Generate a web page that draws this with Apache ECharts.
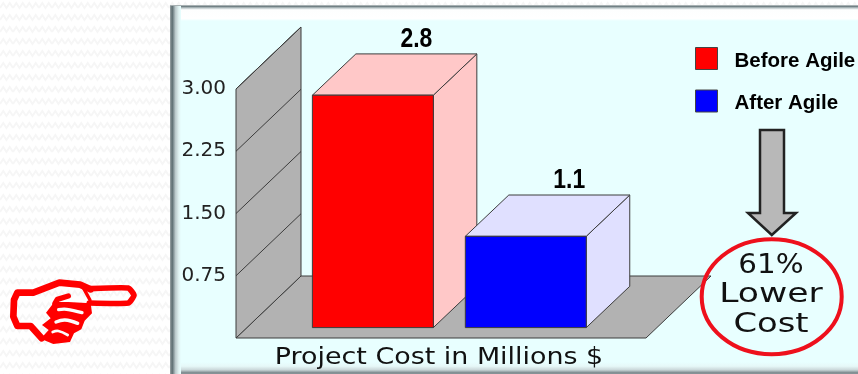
<!DOCTYPE html>
<html>
<head>
<meta charset="utf-8">
<style>
html,body{margin:0;padding:0;width:858px;height:374px;overflow:hidden;background-color:#fff;
background-image:url("data:image/svg+xml;utf8,<svg xmlns='http://www.w3.org/2000/svg' width='13' height='12'><path d='M0 8 L3.25 3 L6.5 8 L9.75 3 L13 8' fill='none' stroke='%23f6f6f6' stroke-width='2'/></svg>");}
#c{width:858px;height:374px;}
</style>
<script src="https://cdn.jsdelivr.net/npm/echarts@6/dist/echarts.min.js"></script>
</head>
<body>
<div id="c"></div>
<script>
const categories = ['Project Cost in Millions $'];
const seriesNames = ['Before Agile', 'After Agile'];
const costValues = [2.8, 1.1];
const yTicks = [0.75, 1.5, 2.25, 3];
const frontColors = ['#ff0000', '#0000ff'];
const sideColors = ['#ffc8c8', '#e0e0ff'];
const calloutLines = ['61%', 'Lower', 'Cost'];

const chart = echarts.init(document.getElementById('c'), null, {renderer: 'canvas'});
const edge = '#3c3c3c';
const WALL_DX = 65, WALL_DY = 62;
const BAR_DX = 43.5, BAR_DY = 41.3, BASE_LIFT = 10.4;
const poly = (pts, fill, z2) => ({type: 'polygon', shape: {points: pts}, z2: z2 || 0,
  style: {fill: fill, stroke: edge, lineWidth: 1}});

function renderFrame(params, api) {
  const bot = api.coord([0, 0]), w = api.size([1, 0])[0];
  const top = api.coord([0, 3]);
  const l = bot[0] - w / 2, r = bot[0] + w / 2, y0 = bot[1], y3 = top[1];
  return {type: 'group', children: [
    poly([[l, y0], [r, y0], [r + WALL_DX, y0 - WALL_DY], [l + WALL_DX, y0 - WALL_DY]], '#b2b2b2'),
    poly([[l, y3], [l + WALL_DX, y3 - WALL_DY], [l + WALL_DX, y0 - WALL_DY], [l, y0]], '#b2b2b2')
  ]};
}
function renderGrid(params, api) {
  const bot = api.coord([0, api.value(1)]), w = api.size([1, 0])[0];
  const l = bot[0] - w / 2;
  return {type: 'line', shape: {x1: l, y1: bot[1], x2: l + WALL_DX, y2: bot[1] - WALL_DY},
    style: {stroke: '#3c3c3c', lineWidth: 1}};
}
function renderBar(i) {
  return function (params, api) {
    const base = api.coord([0, 0]), tip = api.coord([0, api.value(1)]);
    const band = api.size([1, 0])[0];
    const bw = band * 0.295;
    const cx = base[0] + band * (0.0203 + (i - 0.5) * 0.373);
    const x0 = cx - bw / 2, x1 = cx + bw / 2;
    const yb = base[1] - BASE_LIFT, yt = tip[1] - BASE_LIFT;
    return {type: 'group', children: [
      poly([[x1, yt], [x1 + BAR_DX, yt - BAR_DY], [x1 + BAR_DX, yb - BAR_DY], [x1, yb]], sideColors[i]),
      poly([[x0, yt], [x0 + BAR_DX, yt - BAR_DY], [x1 + BAR_DX, yt - BAR_DY], [x1, yt]], sideColors[i]),
      {type: 'rect', shape: {x: x0, y: yt, width: bw, height: yb - yt},
        style: {fill: frontColors[i], stroke: edge, lineWidth: 1}},
      {type: 'text', x: cx + BAR_DX, y: yt - BAR_DY - 14, scaleX: 0.85,
        style: {text: api.value(1).toFixed(1), fill: '#000', align: 'center', verticalAlign: 'middle',
          font: 'bold 27px "Liberation Sans"'}}
    ]};
  };
}

const series = [
  {type: 'custom', name: 'frame', silent: true, z: 1, clip: false, renderItem: renderFrame,
    encode: {x: 0, y: 1}, data: [[0, 0]]},
  {type: 'custom', name: 'gridlines', silent: true, z: 2, clip: false, renderItem: renderGrid,
    encode: {x: 0, y: 1}, data: yTicks.map(v => [0, v])}
];
seriesNames.forEach((n, i) => series.push({
  type: 'custom', name: n, z: 3 + i, clip: false, renderItem: renderBar(i),
  itemStyle: {color: frontColors[i]}, encode: {x: 0, y: 1}, data: [[0, costValues[i]]]
}));

const R = '#ff0000';
const W = '#fcfcfc';
const thick = (pts, lw, smooth) => ({type: 'polyline', shape: {points: pts, smooth: smooth || 0},
  style: {stroke: R, lineWidth: lw, fill: 'none', lineJoin: 'round', lineCap: 'round'}});
const strip = (pts, lw) => ({type: 'polyline', shape: {points: pts, smooth: 0.4},
  style: {stroke: W, lineWidth: lw, fill: 'none', lineCap: 'round'}});
const hand = {type: 'group', x: 0, y: 270, scaleX: 1 / 3, scaleY: 1 / 3, z: 20, silent: true, children: [
  {type: 'polygon', shape: {points: [[160,96],[205,96],[272,100],[276,130],[254,152],[244,178],[222,190],[210,216],[160,222],[122,206],[146,180],[126,165],[152,145],[138,128],[156,105]]},
    style: {fill: R}},
  strip([[176,119],[200,118],[246,128]], 10),
  strip([[168,156],[195,150],[233,160]], 10),
  strip([[158,186],[175,183],[203,195]], 8),
  thick([[125,205],[92,168],[52,168],[40,140],[42,90],[52,68],[100,68],[178,38],[240,44],[272,58]], 20),
  thick([[272,56],[385,54],[402,76],[385,99],[268,99]], 17, 0.15),
  thick([[205,78],[172,88],[165,100]], 16),
  thick([[248,50],[270,90]], 10)
]};

const CY = '#e8ffff';
const grad = (x2, y2, stops) => ({type: 'linear', x: 0, y: 0, x2: x2, y2: y2,
  colorStops: stops.map(s => ({offset: s[0], color: s[1]}))});
const panel = [
  {type: 'rect', z: -10, silent: true, shape: {x: 170, y: 5, width: 688, height: 369}, style: {fill: CY}},
  {type: 'rect', z: -9, silent: true, shape: {x: 170, y: 5, width: 688, height: 16},
    style: {fill: grad(0, 1, [[0, '#d0d5d6'], [0.08, '#66767a'], [0.18, '#b9c4c6'], [0.3, '#fdfefe'], [0.85, '#ffffff'], [1, CY]])}},
  {type: 'rect', z: -9, silent: true, shape: {x: 170, y: 362, width: 688, height: 12},
    style: {fill: grad(0, 1, [[0, CY], [0.35, '#e6f8f8'], [0.65, '#cbd8da'], [0.9, '#7a888c'], [1, '#8d989b']])}},
  {type: 'rect', z: -8, silent: true, shape: {x: 170, y: 6, width: 11, height: 368},
    style: {fill: grad(1, 0, [[0, '#9aa3a5'], [0.2, '#5c6c70'], [0.5, '#bccacc'], [0.8, '#e0f2f2'], [1, CY]])}}
];

const callout = [
  {type: 'polygon', z: 20, silent: true, shape: {points: [[760,130],[784,130],[784,213],[796,213],[771.8,235],[748,213],[760,213]]},
    style: {fill: '#b8b8b8', stroke: '#222', lineWidth: 2.5}},
  {type: 'ellipse', z: 21, silent: true, shape: {cx: 771.7, cy: 296.7, rx: 70, ry: 57.5},
    style: {fill: 'none', stroke: '#ee101c', lineWidth: 4}},
  ...calloutLines.map((t, i) => ({type: 'text', z: 22, silent: true, x: 771, y: [266, 295, 325.5][i], scaleX: [1.13, 1.33, 1.3][i],
    style: {text: t, fill: '#111', align: 'center', verticalAlign: 'middle', font: '26px "DejaVu Sans"'}})),
  {type: 'text', z: 22, silent: true, x: 439, y: 358, scaleX: 1.17,
    style: {text: categories[0], fill: '#111', align: 'center', verticalAlign: 'middle', font: '23px "DejaVu Sans"'}}
];

chart.setOption({
  animation: false,
  backgroundColor: 'transparent',
  grid: {left: 236, top: 89, width: 410, height: 249},
  legend: {data: seriesNames, orient: 'vertical', left: 695, top: 47, padding: 0, itemWidth: 22, itemHeight: 22, itemGap: 18,
    icon: 'rect', itemStyle: {borderColor: '#444', borderWidth: 1},
    formatter: n => '{t|' + n + '}',
    textStyle: {padding: [0, 0, 0, 12], rich: {t: {fontFamily: 'Liberation Sans', fontWeight: 'bold', fontSize: 20.5, color: '#000', padding: [5, 0, 0, 0]}}}},
  xAxis: {type: 'category', data: categories, axisLine: {show: false}, axisTick: {show: false}, axisLabel: {show: false}},
  yAxis: {type: 'value', min: 0, max: 3, interval: 0.75, splitLine: {show: false}, axisLine: {show: false}, axisTick: {show: false},
    axisLabel: {margin: 10, fontFamily: 'DejaVu Sans', fontSize: 20, color: '#222',
      formatter: v => v === 0 ? '' : v.toFixed(2)}},
  graphic: {elements: [...panel, hand, ...callout]},
  series: series
});
</script>
</body>
</html>
